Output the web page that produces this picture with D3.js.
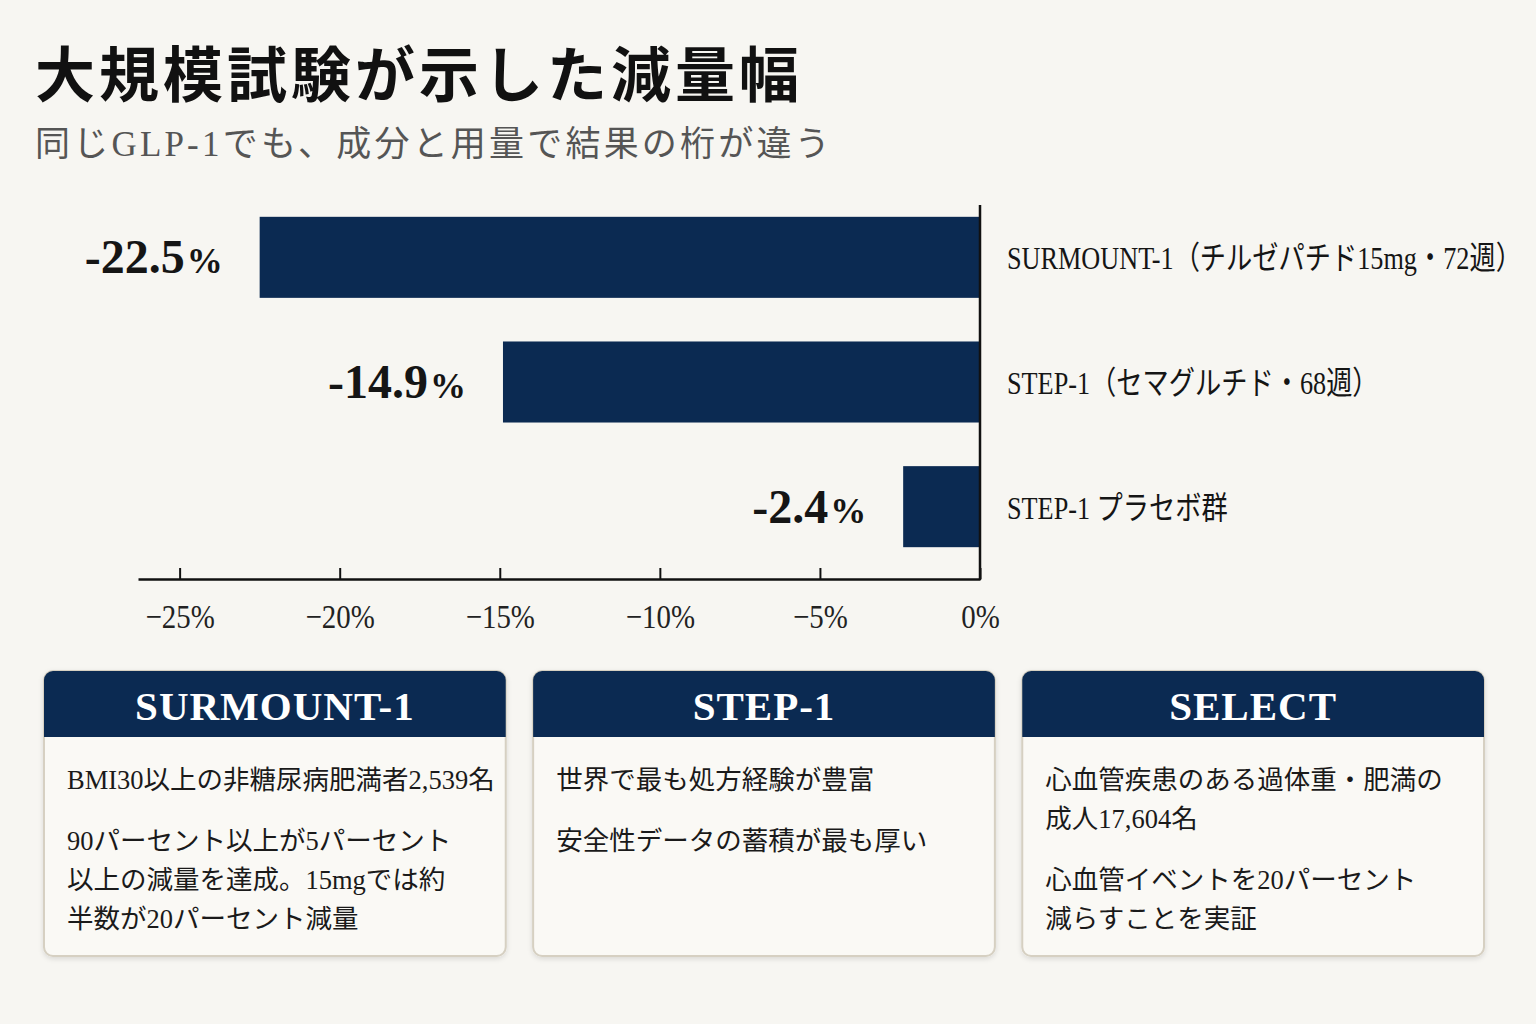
<!DOCTYPE html>
<html><head><meta charset="utf-8">
<script src="https://cdn.jsdelivr.net/npm/d3@7"></script>
<style>
html,body{margin:0;padding:0;background:#f7f6f2;}
svg{display:block;}
</style></head>
<body>
<svg id="chart" width="1536" height="1024"></svg>
<script>
// ---- data ----
const title = "大規模試験が示した減量幅";
const subtitle = "同じGLP-1でも、成分と用量で結果の桁が違う";
const categories = ["SURMOUNT-1（チルゼパチド15mg・72週）", "STEP-1（セマグルチド・68週）", "STEP-1 プラセボ群"];
const values = [-22.5, -14.9, -2.4];
const tickValues = [-25, -20, -15, -10, -5, 0];
const cardTitles = ["SURMOUNT-1", "STEP-1", "SELECT"];
const cardParagraphs = [
  [["BMI30以上の非糖尿病肥満者2,539名"], ["90パーセント以上が5パーセント", "以上の減量を達成。15mgでは約", "半数が20パーセント減量"]],
  [["世界で最も処方経験が豊富"], ["安全性データの蓄積が最も厚い"]],
  [["心血管疾患のある過体重・肥満の", "成人17,604名"], ["心血管イベントを20パーセント", "減らすことを実証"]]
];

// ---- style ----
const NAVY = "#0b2a52";
const SERIF = "'Liberation Serif','Noto Sans CJK JP',serif";
const JP = "'Liberation Serif','Noto Sans CJK JP',sans-serif";
const svg = d3.select("#chart");

svg.append("rect").attr("width", 1536).attr("height", 1024).attr("fill", "#f7f6f2");

// title
svg.append("text").text(title)
  .attr("x", 35).attr("y", 97)
  .attr("font-family", "'Noto Sans CJK JP',sans-serif").attr("font-weight", 700)
  .attr("font-size", 60).attr("letter-spacing", 4).attr("fill", "#111");
svg.append("text").text(subtitle)
  .attr("x", 35).attr("y", 156)
  .attr("font-family", JP).attr("font-size", 35).attr("letter-spacing", 3.2).attr("fill", "#555");

// scales
const x = d3.scaleLinear().domain([-26.3, 0]).range([138, 980]);
const y = d3.scaleBand().domain(categories).range([195, 569]).paddingInner(0.35).paddingOuter(0.175);

// bars
svg.append("g").selectAll("rect").data(values).join("rect")
  .attr("x", d => x(d)).attr("width", d => x(0) - x(d))
  .attr("y", (d, i) => y(categories[i])).attr("height", y.bandwidth())
  .attr("fill", NAVY);

// value labels
const vl = svg.append("g").selectAll("text").data(values).join("text")
  .attr("x", d => x(d) - 37)
  .attr("y", (d, i) => y(categories[i]) + y.bandwidth() / 2 + 16)
  .attr("text-anchor", "end")
  .attr("font-family", SERIF).attr("font-weight", 700).attr("fill", "#151515");
vl.append("tspan").attr("font-size", 48).text(d => d.toFixed(1));
vl.append("tspan").attr("font-size", 36).attr("dx", 2).text("%");

// category labels (horizontally condensed)
svg.append("g").selectAll("text").data(categories).join("text")
  .attr("transform", d => `translate(1007,${y(d) + y.bandwidth() / 2 + 12}) scale(0.82,1)`)
  .attr("font-family", JP).attr("font-size", 32).attr("fill", "#151515")
  .text(d => d);

// x axis
const axis = d3.axisBottom(x).tickValues(tickValues).tickSize(-11).tickSizeOuter(0).tickPadding(25)
  .tickFormat(d => (d < 0 ? "−" + Math.abs(d) : d) + "%");
const gx = svg.append("g").attr("transform", "translate(0,579)").call(axis);
gx.select(".domain").attr("stroke", "#111").attr("stroke-width", 2.5);
gx.selectAll(".tick line").attr("stroke", "#111").attr("stroke-width", 2);
gx.selectAll(".tick text").attr("font-family", SERIF).attr("font-size", 34).attr("fill", "#222")
  .each(function() {
    const w = this.getComputedTextLength();
    d3.select(this).attr("textLength", w * 0.85).attr("lengthAdjust", "spacingAndGlyphs");
  });
// y axis line at zero
svg.append("line").attr("x1", x(0)).attr("x2", x(0)).attr("y1", 205).attr("y2", 580)
  .attr("stroke", "#111").attr("stroke-width", 2.5);

// cards
const defs = svg.append("defs");
const f = defs.append("filter").attr("id", "sh").attr("x", "-5%").attr("y", "-5%").attr("width", "110%").attr("height", "115%");
f.append("feDropShadow").attr("dx", 0).attr("dy", 2).attr("stdDeviation", 2.5).attr("flood-color", "#000").attr("flood-opacity", 0.12);

const cardX = d3.scaleBand().domain(d3.range(cardTitles.length)).range([44, 1484]).paddingInner(0.056);
const cardTop = 671, cardH = 285, headH = 66, r = 9;
const cards = svg.append("g").selectAll("g").data(cardTitles).join("g")
  .attr("transform", (d, i) => `translate(${cardX(i)},${cardTop})`);
const cw = cardX.bandwidth();
cards.append("rect").attr("width", cw).attr("height", cardH).attr("rx", r)
  .attr("fill", "#faf9f5").attr("stroke", "#d6d0c2").attr("stroke-width", 2).attr("filter", "url(#sh)");
cards.append("path")
  .attr("d", `M0,${headH}V${r}A${r},${r} 0 0 1 ${r},0H${cw - r}A${r},${r} 0 0 1 ${cw},${r}V${headH}Z`)
  .attr("fill", NAVY);
cards.append("text").text(d => d)
  .attr("x", cw / 2).attr("y", 49).attr("text-anchor", "middle")
  .attr("font-family", SERIF).attr("font-weight", 700).attr("font-size", 41)
  .attr("letter-spacing", 1).attr("fill", "#fff");

cards.each(function(d, i) {
  const g = d3.select(this);
  let yy = 118;
  cardParagraphs[i].forEach((para, pi) => {
    if (pi > 0) yy += 22;
    para.forEach(line => {
      g.append("text").text(line).attr("x", 23).attr("y", yy)
        .attr("font-family", JP).attr("font-size", 26.5).attr("letter-spacing", 0).attr("fill", "#1a1a1a");
      yy += 39;
    });
  });
});
</script>
</body></html>
